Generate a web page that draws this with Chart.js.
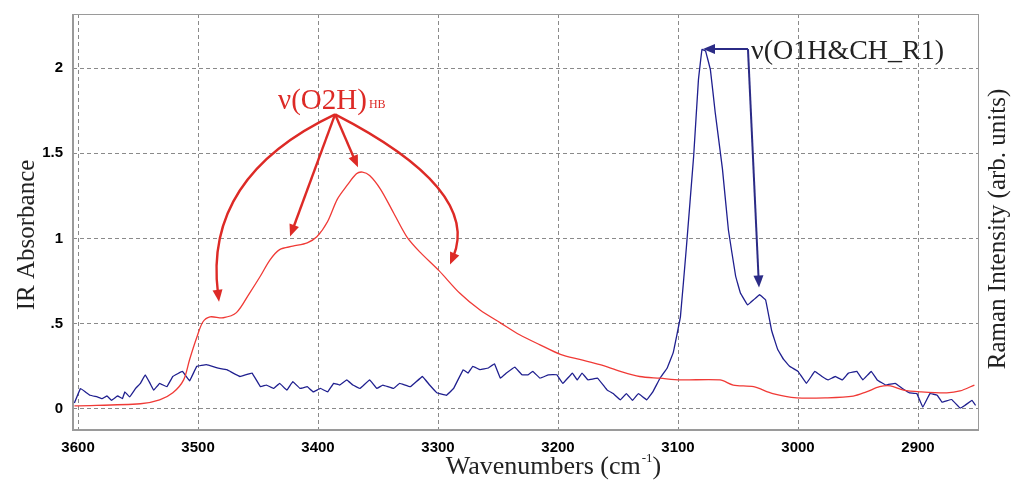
<!DOCTYPE html>
<html>
<head>
<meta charset="utf-8">
<script src="https://cdn.jsdelivr.net/npm/chart.js@4.4.0/dist/chart.umd.min.js"></script>
<style>
  html, body { margin: 0; padding: 0; background: #fff; }
</style>
</head>
<body>
<canvas id="spectra" width="1018" height="484"></canvas>
<script>
// IR absorbance (red)
var irWavenumbers = [3603, 3600, 3548, 3532, 3521, 3512, 3507, 3501, 3496, 3490, 3479, 3468, 3457, 3448, 3440, 3432,
    3421, 3409, 3401, 3392, 3384, 3376, 3368, 3363, 3357, 3348, 3337, 3326, 3315, 3299, 3282, 3265, 3248, 3232,
    3215, 3198, 3182, 3165, 3148, 3132, 3115, 3098, 3065, 3054, 3037, 3021, 3001, 2976, 2954, 2943, 2932, 2923,
    2912, 2898, 2876, 2865, 2853];
var irAbsorbance = [0.018, 0.018, 0.03, 0.053, 0.094, 0.17, 0.29, 0.42, 0.51, 0.54, 0.535, 0.565, 0.68, 0.78, 0.875, 0.935,
    0.955, 0.975, 1.01, 1.10, 1.23, 1.31, 1.38, 1.39, 1.37, 1.29, 1.15, 1.01, 0.92, 0.81, 0.68, 0.58, 0.505, 0.435,
    0.376, 0.32, 0.29, 0.26, 0.22, 0.19, 0.18, 0.17, 0.17, 0.14, 0.13, 0.09, 0.065, 0.065, 0.075, 0.10, 0.13, 0.135,
    0.11, 0.10, 0.094, 0.105, 0.14];

// Raman intensity (blue)
var ramanWavenumbers = [3603, 3598, 3594, 3590, 3584, 3580, 3576, 3572, 3567, 3563, 3561, 3557, 3552, 3548, 3544, 3540,
    3537, 3532, 3526, 3521, 3513, 3507, 3501, 3493, 3484, 3476, 3465, 3455, 3448, 3443, 3437, 3432, 3426, 3421,
    3415, 3409, 3404, 3398, 3392, 3387, 3382, 3376, 3371, 3365, 3357, 3351, 3346, 3337, 3332, 3323, 3313, 3307,
    3301, 3293, 3287, 3279, 3275, 3271, 3265, 3258, 3253, 3248, 3243, 3236, 3230, 3225, 3221, 3215, 3208, 3201,
    3196, 3188, 3184, 3180, 3175, 3167, 3159, 3154, 3148, 3143, 3138, 3133, 3126, 3121, 3115, 3109, 3104, 3098,
    3093, 3087, 3083, 3080, 3077, 3073, 3069, 3063, 3058, 3052, 3048, 3042, 3037, 3032, 3027, 3022, 3017, 3012,
    3007, 3000, 2993, 2986, 2980, 2975, 2969, 2963, 2958, 2951, 2946, 2939, 2934, 2927, 2919, 2913, 2907, 2901,
    2896, 2890, 2884, 2880, 2872, 2865, 2861, 2855, 2852];
var ramanIntensity = [0.035, 0.12, 0.10, 0.08, 0.07, 0.06, 0.076, 0.05, 0.076, 0.06, 0.10, 0.07, 0.12, 0.15, 0.20, 0.15,
    0.11, 0.15, 0.13, 0.19, 0.22, 0.165, 0.25, 0.26, 0.24, 0.23, 0.19, 0.21, 0.13, 0.14, 0.12, 0.15, 0.11, 0.16,
    0.12, 0.13, 0.10, 0.12, 0.10, 0.15, 0.14, 0.17, 0.14, 0.12, 0.17, 0.12, 0.14, 0.12, 0.15, 0.13, 0.19, 0.14,
    0.095, 0.08, 0.12, 0.23, 0.21, 0.25, 0.23, 0.24, 0.265, 0.18, 0.21, 0.245, 0.20, 0.20, 0.22, 0.18, 0.20, 0.20,
    0.15, 0.21, 0.17, 0.21, 0.17, 0.18, 0.11, 0.09, 0.053, 0.09, 0.05, 0.09, 0.053, 0.10, 0.18, 0.24, 0.33, 0.54,
    0.95, 1.48, 1.93, 2.11, 2.10, 1.99, 1.74, 1.41, 1.05, 0.78, 0.68, 0.61, 0.64, 0.67, 0.64, 0.46, 0.35, 0.29,
    0.25, 0.22, 0.15, 0.22, 0.19, 0.17, 0.19, 0.17, 0.21, 0.22, 0.17, 0.22, 0.17, 0.14, 0.15, 0.12, 0.094, 0.09,
    0.01, 0.09, 0.08, 0.04, 0.055, 0.005, 0.02, 0.05, 0.02];

var xTickValues = [3600, 3500, 3400, 3300, 3200, 3100, 3000, 2900];
var yTickValues = [0, 0.5, 1, 1.5, 2];
var yTickLabels = ['0', '.5', '1', '1.5', '2'];

var redInk = '#dd2a26';
var blueInk = '#2b2b86';

function toPoints(xs, ys) {
    return xs.map(function (v, i) { return { x: v, y: ys[i] }; });
}

function arrowHead(ctx, fx, fy, tx, ty, len, half, color) {
    var a = Math.atan2(ty - fy, tx - fx);
    var bx = tx - len * Math.cos(a), by = ty - len * Math.sin(a);
    ctx.beginPath();
    ctx.moveTo(tx, ty);
    ctx.lineTo(bx + half * Math.sin(a), by - half * Math.cos(a));
    ctx.lineTo(bx - half * Math.sin(a), by + half * Math.cos(a));
    ctx.closePath();
    ctx.fillStyle = color;
    ctx.fill();
}

// arrow from p0 to p2, bent through control point c when given (all in data units)
function arrow(ctx, sx, sy, p0, p2, c, color, width) {
    var x0 = sx(p0[0]), y0 = sy(p0[1]), x2 = sx(p2[0]), y2 = sy(p2[1]);
    var fx = x0, fy = y0, cx, cy;
    if (c) { cx = sx(c[0]); cy = sy(c[1]); fx = cx; fy = cy; }
    var d = Math.hypot(x2 - fx, y2 - fy);
    var ex = x2 - (x2 - fx) / d * 8, ey = y2 - (y2 - fy) / d * 8;
    ctx.beginPath();
    ctx.moveTo(x0, y0);
    if (c) ctx.quadraticCurveTo(cx, cy, ex, ey);
    else ctx.lineTo(ex, ey);
    ctx.strokeStyle = color;
    ctx.lineWidth = width;
    ctx.stroke();
    arrowHead(ctx, fx, fy, x2, y2, 12, 5, color);
}

var decorPlugin = {
    id: 'decor',
    afterDraw: function (chart) {
        var ctx = chart.ctx, area = chart.chartArea;
        var xs = chart.scales.x, ys = chart.scales.y;
        var sx = function (v) { return xs.getPixelForValue(v); };
        var sy = function (v) { return ys.getPixelForValue(v); };
        ctx.save();

        // frame
        ctx.strokeStyle = '#9a9a9a';
        ctx.lineWidth = 1;
        ctx.strokeRect(area.left + 0.5, area.top + 0.5, area.right - area.left, area.bottom - area.top);
        ctx.lineWidth = 2;
        ctx.beginPath();
        ctx.moveTo(area.left, area.top);
        ctx.lineTo(area.left, area.bottom);
        ctx.lineTo(area.right, area.bottom);
        ctx.stroke();

        // axis titles
        ctx.fillStyle = '#222';
        ctx.font = '25px "Liberation Serif"';
        ctx.textAlign = 'center';
        ctx.textBaseline = 'middle';
        ctx.save();
        ctx.translate(27, 235);
        ctx.rotate(-Math.PI / 2);
        ctx.fillText('IR Absorbance', 0, 0);
        ctx.restore();

        ctx.save();
        ctx.translate(998, 229);
        ctx.rotate(-Math.PI / 2);
        ctx.fillText('Raman Intensity (arb. units)', 0, 0);
        ctx.restore();

        ctx.textAlign = 'left';
        ctx.textBaseline = 'alphabetic';
        ctx.font = '26px "Liberation Serif"';
        var t1 = 'Wavenumbers (cm', t2 = '-1', t3 = ')';
        var w1 = ctx.measureText(t1).width;
        ctx.font = '13px "Liberation Serif"';
        var w2 = ctx.measureText(t2).width;
        ctx.font = '26px "Liberation Serif"';
        var w3 = ctx.measureText(t3).width;
        var tx = 553 - (w1 + w2 + w3) / 2, tb = 474;
        ctx.fillText(t1, tx, tb);
        ctx.font = '13px "Liberation Serif"';
        ctx.fillText(t2, tx + w1 + 1, tb - 12);
        ctx.font = '26px "Liberation Serif"';
        ctx.fillText(t3, tx + w1 + w2 + 1, tb);

        // red annotation
        var redFrom = [3385.8, 1.729];
        arrow(ctx, sx, sy, redFrom, [3482.5, 0.629], [3495.8, 1.362], redInk, 2.4);
        arrow(ctx, sx, sy, redFrom, [3423.3, 1.012], null, redInk, 2.4);
        arrow(ctx, sx, sy, redFrom, [3366.7, 1.418], null, redInk, 2.4);
        arrow(ctx, sx, sy, redFrom, [3290, 0.847], [3263.8, 1.288], redInk, 2.4);
        ctx.fillStyle = redInk;
        ctx.font = '29px "Liberation Serif"';
        var lx = sx(3433.3), lb = sy(1.759);
        ctx.fillText('\u03bd(O2H)', lx, lb);
        var lw = ctx.measureText('\u03bd(O2H)').width;
        ctx.font = '12px "Liberation Serif"';
        ctx.fillText('HB', lx + lw + 2, lb - 1);

        // blue annotation
        var blueFrom = [3041.7, 2.112];
        arrow(ctx, sx, sy, blueFrom, [3079.2, 2.112], null, blueInk, 2);
        arrow(ctx, sx, sy, blueFrom, [3032.5, 0.712], null, blueInk, 2);
        ctx.fillStyle = '#222';
        ctx.font = '28px "Liberation Serif"';
        ctx.fillText('\u03bd(O1H&CH_R1)', sx(3039.2), sy(2.053));

        ctx.restore();
    }
};

var config = {
    type: 'line',
    data: {
        datasets: [
            {
                label: 'IR',
                data: toPoints(irWavenumbers, irAbsorbance),
                borderColor: '#f03a36',
                borderWidth: 1.3,
                pointRadius: 0,
                tension: 0.3,
                yAxisID: 'y'
            },
            {
                label: 'Raman',
                data: toPoints(ramanWavenumbers, ramanIntensity),
                borderColor: '#1f1f8f',
                borderWidth: 1.3,
                pointRadius: 0,
                tension: 0.05,
                yAxisID: 'y2'
            }
        ]
    },
    options: {
        responsive: false,
        animation: false,
        devicePixelRatio: 1,
        layout: { padding: { top: 14, left: 0, right: 0, bottom: 0 } },
        plugins: { legend: { display: false }, tooltip: { enabled: false } },
        scales: {
            x: {
                type: 'linear',
                reverse: true,
                min: 2850,
                max: 3604.2,
                afterBuildTicks: function (s) { s.ticks = xTickValues.map(function (v) { return { value: v }; }); },
                afterFit: function (s) { s.height = 54; s.paddingLeft = 0; s.paddingRight = 0; },
                ticks: {
                    padding: 9,
                    color: '#000',
                    font: { family: '"Liberation Sans"', size: 15, weight: 'bold' },
                    callback: function (v) { return String(v); }
                },
                grid: { color: '#8a8a8a', lineWidth: 1, drawTicks: false },
                border: { display: false, dash: [4, 3] }
            },
            y: {
                min: -0.124,
                max: 2.318,
                afterBuildTicks: function (s) { s.ticks = yTickValues.map(function (v) { return { value: v }; }); },
                afterFit: function (s) { s.width = 73; s.paddingTop = 0; s.paddingBottom = 0; },
                ticks: {
                    padding: 10,
                    color: '#000',
                    font: { family: '"Liberation Sans"', size: 15, weight: 'bold' },
                    callback: function (v) { return yTickLabels[yTickValues.indexOf(v)]; }
                },
                grid: { color: '#8a8a8a', lineWidth: 1, drawTicks: false },
                border: { display: false, dash: [4, 3] }
            },
            y2: {
                position: 'right',
                min: -0.124,
                max: 2.318,
                afterFit: function (s) { s.width = 40; s.paddingTop = 0; s.paddingBottom = 0; },
                ticks: { display: false },
                grid: { drawOnChartArea: false, drawTicks: false },
                border: { display: false }
            }
        }
    },
    plugins: [decorPlugin]
};

var spectraChart = new Chart(document.getElementById('spectra').getContext('2d'), config);
</script>
</body>
</html>
